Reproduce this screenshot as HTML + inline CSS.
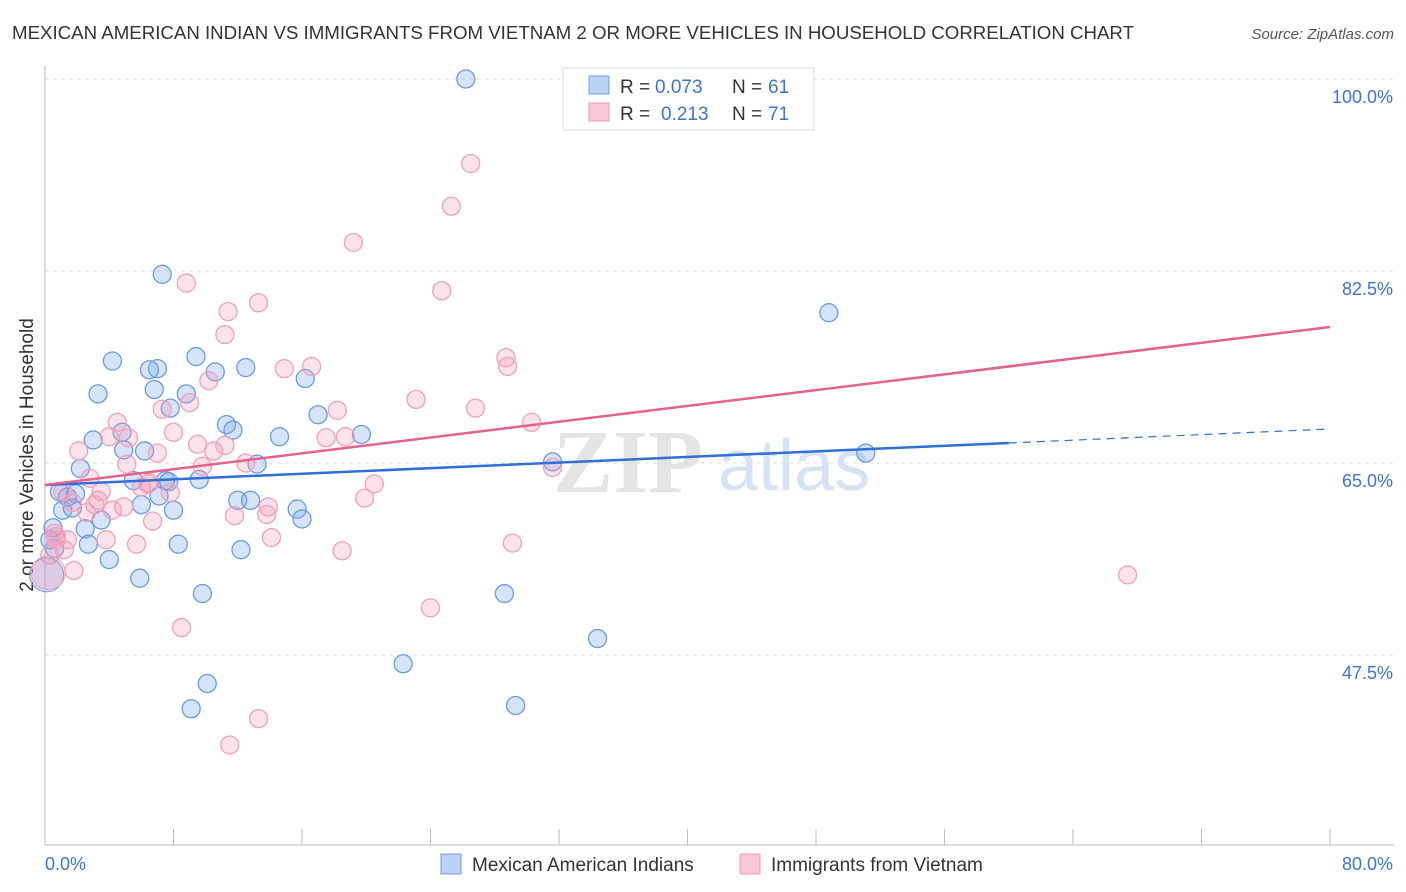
<!DOCTYPE html>
<html><head><meta charset="utf-8"><style>
body{margin:0;background:#fff;font-family:"Liberation Sans",sans-serif}
svg{display:block}
</style></head><body>
<svg id="chart" width="1406" height="892">
<text x="12" y="39" font-size="18.7" fill="#333" textLength="1122">MEXICAN AMERICAN INDIAN VS IMMIGRANTS FROM VIETNAM 2 OR MORE VEHICLES IN HOUSEHOLD CORRELATION CHART</text>
<text x="1394" y="39" font-size="15" fill="#555" font-style="italic" text-anchor="end">Source: ZipAtlas.com</text>
<text transform="translate(33,455) rotate(-90)" font-size="19" fill="#333" text-anchor="middle">2 or more Vehicles in Household</text>
<g><text x="553" y="492" font-size="90" fill="#e4e4e4" font-family="Liberation Serif,serif" font-weight="bold">ZIP</text><text x="718" y="490" font-size="72" fill="#d6e3f5">atlas</text></g>
<g id="grid"></g><g id="axes"></g><g id="marks"></g><g id="lines"></g>
<g>
<rect x="563" y="68" width="251" height="62" fill="#fff" stroke="#ddd"/>
<rect x="589" y="76" width="20" height="18" fill="#b9d2f5" stroke="#6f9fe0"/>
<rect x="589" y="103" width="20" height="18" fill="#f9c8d6" stroke="#ef9ab4"/>
<text x="620" y="93" font-size="19" fill="#333">R =</text>
<text x="655" y="93" font-size="19" fill="#3d73d3">0.073</text>
<text x="732" y="93" font-size="19" fill="#333">N =</text>
<text x="768" y="93" font-size="19" fill="#3d73d3">61</text>
<text x="620" y="120" font-size="19" fill="#333">R =</text>
<text x="661" y="120" font-size="19" fill="#3d73d3">0.213</text>
<text x="732" y="120" font-size="19" fill="#333">N =</text>
<text x="768" y="120" font-size="19" fill="#3d73d3">71</text>
</g>
<g>
<rect x="441" y="854" width="20" height="20" fill="#b9d2f5" stroke="#6f9fe0"/>
<text x="472" y="871" font-size="19" fill="#333">Mexican American Indians</text>
<rect x="740" y="854" width="20" height="20" fill="#f9c8d6" stroke="#ef9ab4"/>
<text x="771" y="871" font-size="19" fill="#333">Immigrants from Vietnam</text>
</g>
</svg>
<script>
const yTicks=[47.5,65,82.5,100];
const yTickLabels=["47.5%","65.0%","82.5%","100.0%"];
const xTicks=[0,8,16,24,32,40,48,56,64,72,80];
const blueX=[26.2,7.3,48.8,4.2,9.4,7.0,6.5,12.5,10.6,16.2,3.3,6.8,8.8,7.8,17.0,11.3,11.7,4.8,14.6,19.7,3.0,6.2,4.9,13.2,31.6,51.1,2.2,5.5,7.5,9.6,7.7,0.9,1.4,1.9,7.1,6.0,12.0,12.8,8.0,15.7,1.1,1.7,3.5,16.0,2.5,0.5,2.7,8.3,12.2,0.6,4.0,5.9,9.8,28.6,34.4,22.3,10.1,9.1,29.3,0.3];
const blueY=[100,82.2,78.7,74.3,74.7,73.6,73.5,73.7,73.3,72.7,71.3,71.7,71.3,70.0,69.4,68.5,68.0,67.8,67.4,67.6,67.1,66.1,66.2,64.9,65.1,65.9,64.5,63.4,63.4,63.5,63.3,62.4,61.9,62.2,62.0,61.2,61.6,61.6,60.7,60.8,60.7,60.9,59.8,59.9,59.0,59.1,57.6,57.6,57.1,57.2,56.2,54.5,53.1,53.1,49.0,46.7,44.9,42.6,42.9,58.0];
const pinkX=[26.5,25.3,19.2,8.8,24.7,11.4,13.3,11.2,28.7,28.8,14.9,16.6,10.2,9.0,23.1,26.8,7.3,18.2,4.5,30.3,8.0,5.2,17.5,18.7,9.5,2.1,10.5,7.0,4.0,9.8,12.5,5.1,31.6,2.8,6.4,7.8,3.5,20.5,1.1,3.3,1.7,3.1,19.9,13.9,4.9,4.2,2.6,11.8,13.8,6.7,0.6,3.8,14.1,5.7,29.1,18.5,1.2,0.3,1.8,67.4,24.0,8.5,13.3,11.5,0.7,6.0,0.7,1.4,6.5,11.2];
const pinkY=[92.3,88.4,85.1,81.4,80.7,78.8,79.6,76.7,74.6,73.8,73.6,73.8,72.5,70.5,70.8,70.0,69.9,69.8,68.7,68.7,67.8,67.3,67.3,67.4,66.7,66.1,66.1,65.9,67.4,64.7,65.0,64.9,64.6,63.6,63.1,62.3,62.4,63.1,62.4,61.6,61.4,61.2,61.8,61.0,61.0,60.7,60.5,60.2,60.3,59.7,58.6,58.0,58.2,57.6,57.7,57.0,57.1,56.6,55.2,54.8,51.8,50.0,41.7,39.3,58.0,62.8,58.3,58.0,63.2,66.6];
const bigX=[0.1,0.2];
const bigY=[54.8,55.0];
const blueTrend=[63.0,68.1];
const pinkTrend=[63.0,77.4];
const NS="http://www.w3.org/2000/svg";
const xs=v=>45+v*(1330-45)/80;
const ys=v=>79+(100-v)*192/17.5;
function mk(tag,attrs,parent){const e=document.createElementNS(NS,tag);for(const k in attrs)e.setAttribute(k,attrs[k]);document.getElementById(parent).appendChild(e);return e;}
yTicks.forEach((t,i)=>{
 const l=mk('line',{x1:45,x2:1394,y1:ys(t),y2:ys(t),stroke:'#ddd','stroke-dasharray':'4,4'},'grid');
 
 
 const tx=mk('text',{x:1393,y:ys(t)+24,'font-size':18,fill:'#3d73d3','text-anchor':'end'},'grid');
 tx.textContent=yTickLabels[i];
 
 
});
const ax=mk('line',{x1:45,x2:45,y1:66,y2:845,stroke:'#bbb'},'axes');


const bx=mk('line',{x1:45,x2:1394,y1:845,y2:845,stroke:'#bbb'},'axes');


xTicks.forEach(t=>{
 const l=mk('line',{x1:xs(t),x2:xs(t),y1:829,y2:845,stroke:'#bbb'},'axes');
 
 
});
const x0=mk('text',{x:45,y:870,'font-size':18,fill:'#3d73d3'},'axes');x0.textContent='0.0%';


const x1=mk('text',{x:1393,y:870,'font-size':18,fill:'#3d73d3','text-anchor':'end'},'axes');x1.textContent='80.0%';


blueX.forEach((v,i)=>{
 const c=mk('circle',{cx:xs(v),cy:ys(blueY[i]),r:9,fill:'rgba(120,165,235,0.3)',stroke:'#6a9be0','stroke-width':1.3},'marks');
 
 
});
pinkX.forEach((v,i)=>{
 const c=mk('circle',{cx:xs(v),cy:ys(pinkY[i]),r:9,fill:'rgba(245,150,180,0.28)',stroke:'#f0a0ba','stroke-width':1.3},'marks');
 
 
});
bigX.forEach((v,i)=>{
 const c=mk('circle',{cx:xs(v),cy:ys(bigY[i]),r:17,fill:i?'rgba(245,150,180,0.3)':'rgba(120,165,235,0.32)',stroke:i?'#f0a0ba':'#6a9be0'},'marks');
 
 
});
const bm=blueTrend[0]+(blueTrend[1]-blueTrend[0])*60/80;
const b1=mk('line',{x1:xs(0),y1:ys(blueTrend[0]),x2:xs(60),y2:ys(bm),stroke:'#2f6fd6','stroke-width':2.5},'lines');


const b2=mk('line',{x1:xs(60),y1:ys(bm),x2:xs(80),y2:ys(blueTrend[1]),stroke:'#2f6fd6','stroke-width':1.2,'stroke-dasharray':'8,6'},'lines');


const p1=mk('line',{x1:xs(0),y1:ys(pinkTrend[0]),x2:xs(80),y2:ys(pinkTrend[1]),stroke:'#e4628e','stroke-width':2.5},'lines');


</script>
</body></html>
